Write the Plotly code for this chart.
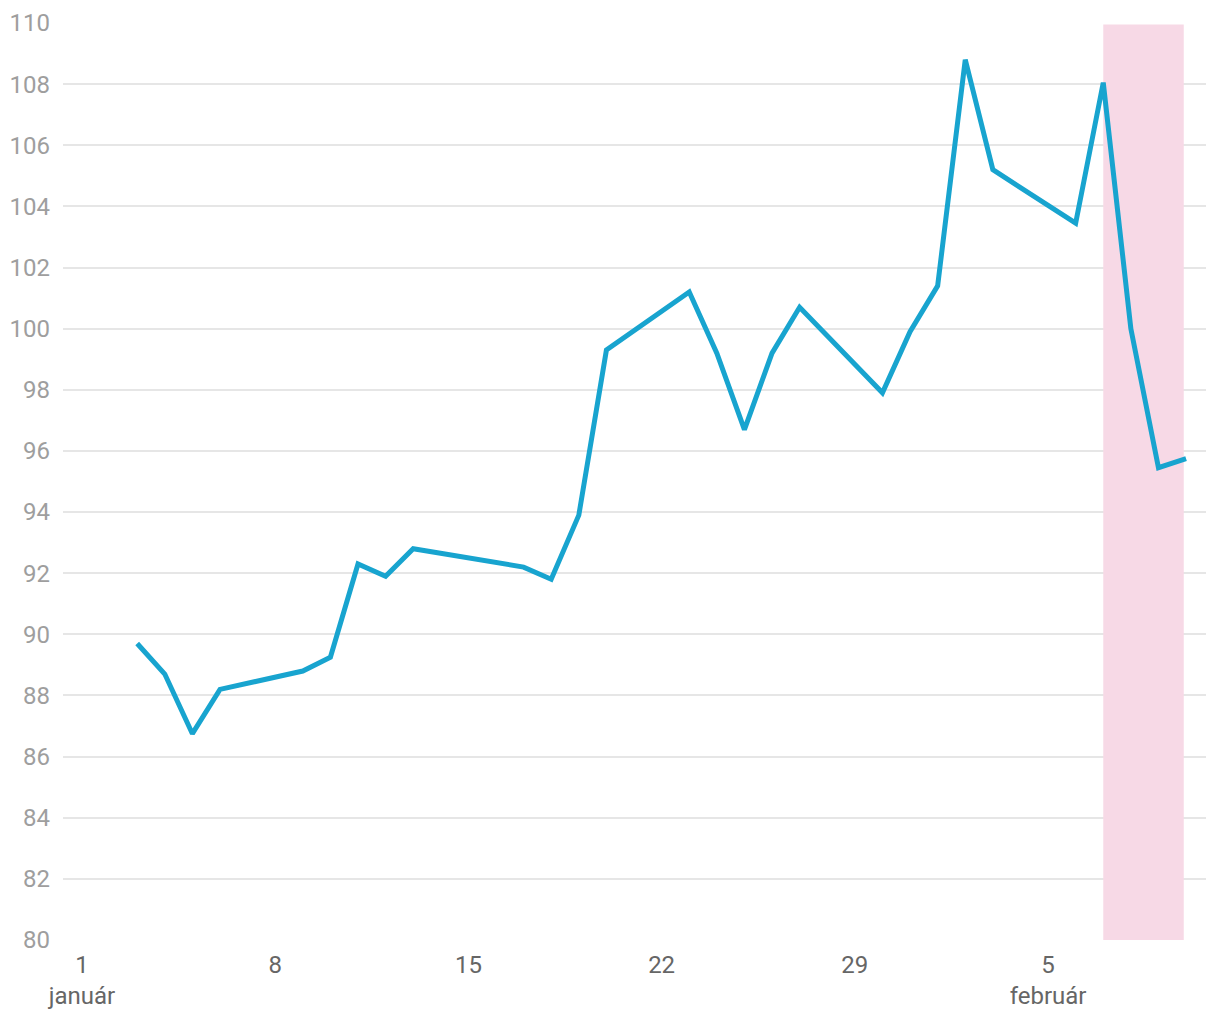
import plotly.graph_objects as go

dates = ["2024-01-03", "2024-01-04", "2024-01-05", "2024-01-06", "2024-01-09", "2024-01-10",
         "2024-01-11", "2024-01-12", "2024-01-13", "2024-01-17", "2024-01-18", "2024-01-19",
         "2024-01-20", "2024-01-23", "2024-01-24", "2024-01-25", "2024-01-26", "2024-01-27",
         "2024-01-30", "2024-01-31", "2024-02-01", "2024-02-02", "2024-02-03", "2024-02-06",
         "2024-02-07", "2024-02-08", "2024-02-09", "2024-02-10"]
values = [89.7, 88.7, 86.75, 88.2, 88.8, 89.25,
          92.3, 91.9, 92.8, 92.2, 91.8, 93.9,
          99.3, 101.2, 99.2, 96.7, 99.2, 100.7,
          97.9, 99.9, 101.4, 108.8, 105.2, 103.45,
          108.05, 100.0, 95.45, 95.75]

tick_dates = ["2024-01-01", "2024-01-08", "2024-01-15", "2024-01-22", "2024-01-29", "2024-02-05"]
tick_labels = ["1<br>január", "8", "15", "22", "29", "5<br>február"]

highlight_start = "2024-02-07"
highlight_end = "2024-02-09 22:00"

y_ticks = list(range(80, 111, 2))

fig = go.Figure()
fig.add_trace(go.Scatter(
    x=dates, y=values, mode="lines",
    line=dict(color="#18a4cf", width=5, shape="linear"),
    hoverinfo="x+y", showlegend=False,
))

fig.add_shape(type="rect", xref="x", yref="y",
              x0=highlight_start, x1=highlight_end, y0=80, y1=109.95,
              fillcolor="#f7d9e6", line=dict(width=0), layer="between")

fig.update_layout(
    width=1220, height=1020,
    margin=dict(l=55, r=22, t=15, b=88),
    paper_bgcolor="white", plot_bgcolor="white",
    font=dict(family="Roboto", size=24, color="#666666"),
    xaxis=dict(
        range=["2023-12-31 07:30", "2024-02-10 17:20"],
        tickvals=tick_dates, ticktext=tick_labels,
        showgrid=False, zeroline=False, showline=False,
        tickfont=dict(size=24, color="#666666"),
        ticks="", ticklabelstandoff=8, automargin=False,
    ),
    yaxis=dict(
        range=[80, 110], tickvals=y_ticks,
        showgrid=True, gridcolor="#e6e6e6", gridwidth=2,
        zeroline=False, showline=False,
        tickfont=dict(size=24, color="#9e9e9e"),
        ticks="", ticklabelstandoff=12, automargin=False,
    ),
)

fig.write_html("out.html")
